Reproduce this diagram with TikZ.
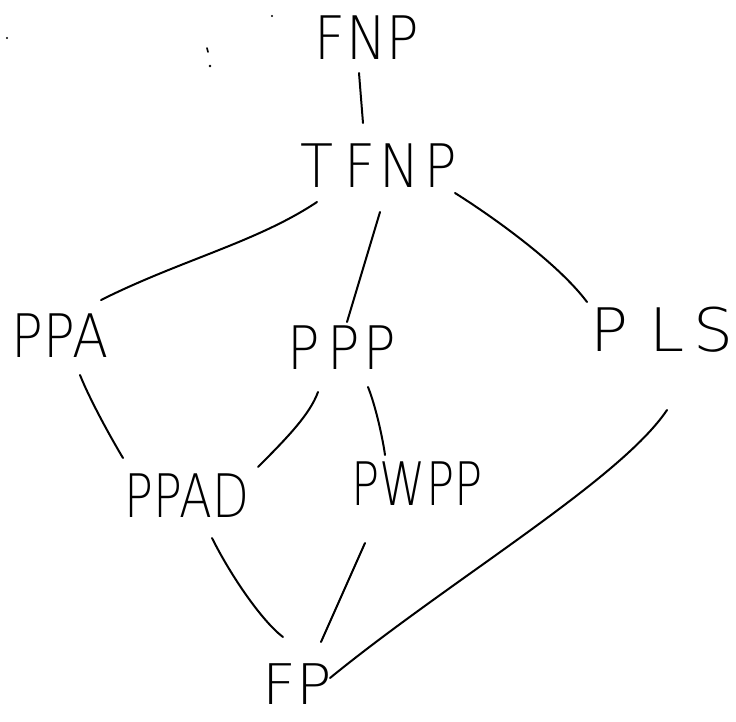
\documentclass[tikz,border=0pt]{standalone}
\usepackage{fontspec}
\setmainfont{Liberation Sans}
\newfontfamily\hand{DejaVu Sans ExtraLight}
\usepackage{graphicx}
% class label: horizontal squeeze and text
\newcommand{\lab}[2]{\hand\scalebox{#1}[1]{#2}}
\begin{document}
\begin{tikzpicture}[x=1pt,y=-1pt,
  cls/.style={inner sep=0pt, font=\fontsize{60}{60}\selectfont},
  link/.style={draw=black, line width=2pt, line cap=round, line join=round}]
\useasboundingbox[fill=white] (0,0) rectangle (736,721);

% complexity classes
\node[cls] (fnp)  at (367,38)  {\lab{0.9}{FNP}};
\node[cls] (tfnp) at (379,166) {\lab{0.9}{T\kern12pt F\kern4pt N\kern6pt P}};
\node[cls] (ppa)  at (60,336)  {\lab{0.88}{PPA}};
\node[cls] (ppp)  at (342,348) {\lab{0.9}{P\kern8pt P\kern4pt P}};
\node[cls] (pls)  at (662,330) {\lab{1.05}{P\kern20pt L\kern8pt S}};
\node[cls] (ppad) at (187,496) {\lab{0.8}{PPAD}};
\node[cls] (pwpp) at (417,484) {\lab{0.78}{PWPP}};
\node[cls,font=\fontsize{56}{56}\selectfont] (fp) at (297,684) {\lab{1.05}{FP}};

% inclusions
\draw[link] ([shift={(-8,35)}]fnp.center) -- ([shift={(-16,-43)}]tfnp.center);
\draw[link] ([shift={(-62,36)}]tfnp.center) .. controls +(-60,40) and +(80,-40) .. ([shift={(41,-36)}]ppa.center);
\draw[link] ([shift={(1,46)}]tfnp.center) -- ([shift={(5,-26)}]ppp.center);
\draw[link] ([shift={(76,27)}]tfnp.center) .. controls +(35,22) and +(-30,-40) .. ([shift={(-75,-28)}]pls.center);
\draw[link] ([shift={(20,39)}]ppa.center) .. controls +(10,25) and +(-12,-20) .. ([shift={(-64,-38)}]ppad.center);
\draw[link] ([shift={(-24,44)}]ppp.center) .. controls +(-8,22) and +(30,-30) .. ([shift={(71,-29)}]ppad.center);
\draw[link] ([shift={(26,39)}]ppp.center) .. controls +(8,20) and +(-2,-15) .. ([shift={(-32,-29)}]pwpp.center);
\draw[link] ([shift={(5,80)}]pls.center) .. controls +(-47,70) and +(120,-98) .. ([shift={(33,-6)}]fp.center);
\draw[link] ([shift={(25,42)}]ppad.center) .. controls +(20,40) and +(-20,-15) .. ([shift={(-14,-47)}]fp.center);
\draw[link] ([shift={(-52,59)}]pwpp.center) -- ([shift={(24,-42)}]fp.center);

% stray pen marks
\fill (7,38) circle (1.2);
\fill (272,16) circle (1.2);
\draw[line width=1.6pt, line cap=round] (207,48) -- (208,52);
\fill (210,66) circle (1.3);
\end{tikzpicture}
\end{document}
